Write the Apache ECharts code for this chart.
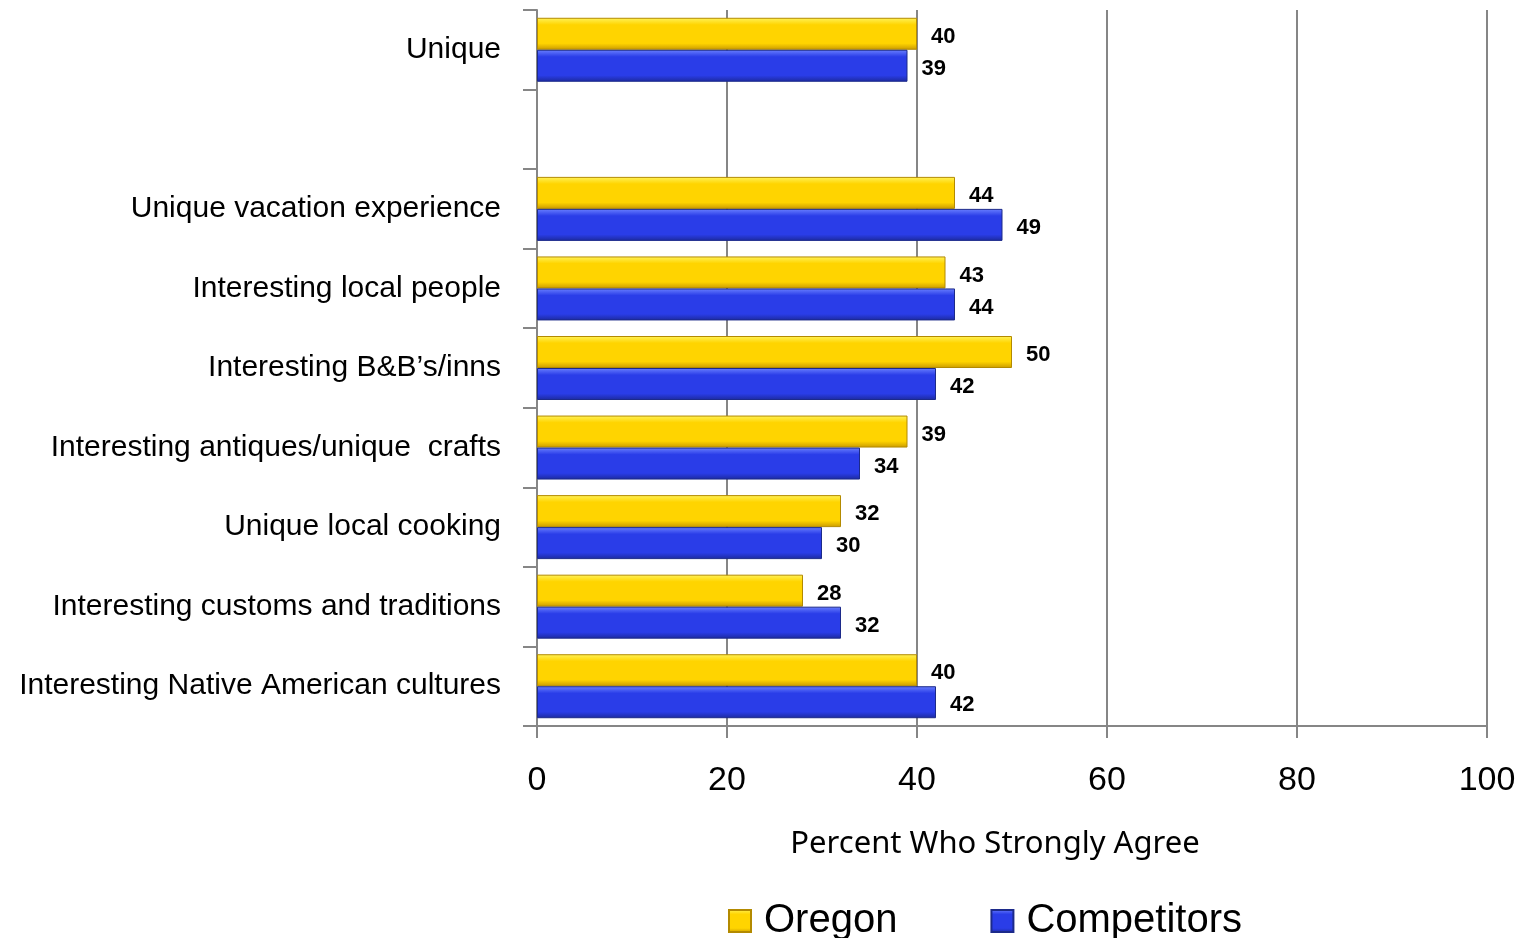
<!DOCTYPE html>
<html>
<head>
<meta charset="utf-8">
<script src="https://cdn.jsdelivr.net/npm/echarts@6/dist/echarts.min.js"></script>
<style>
  html, body { margin: 0; padding: 0; background: #ffffff; }
  #chart { width: 1523px; height: 938px; }
</style>
</head>
<body>
<div id="chart"></div>
<script>
// Attributes rated, top to bottom (an empty slot separates the overall item)
const categories = [
  'Unique',
  '',
  'Unique vacation experience',
  'Interesting local people',
  'Interesting B&B\u2019s/inns',
  'Interesting antiques/unique  crafts',
  'Unique local cooking',
  'Interesting customs and traditions',
  'Interesting Native American cultures'
];
const oregonValues      = [40, null, 44, 43, 50, 39, 32, 28, 40];
const competitorValues  = [39, null, 49, 44, 42, 34, 30, 32, 42];
const xTicks = [0, 20, 40, 60, 80, 100];

const chart = echarts.init(document.getElementById('chart'));

function bevel(light, mid, dark) {
  return new echarts.graphic.LinearGradient(0, 0, 0, 1, [
    { offset: 0, color: light },
    { offset: 0.22, color: mid },
    { offset: 0.8, color: mid },
    { offset: 1, color: dark }
  ]);
}

const valueLabel = {
  show: true,
  position: 'right',
  distance: 14,
  offset: [0, 3],
  color: '#000',
  fontFamily: 'Liberation Sans, Arial, sans-serif',
  fontWeight: 'bold',
  fontSize: 22
};

chart.setOption({
  animation: false,
  backgroundColor: '#ffffff',
  grid: { left: 537, right: 36, top: 10, bottom: 212, containLabel: false },
  legend: {
    left: 723,
    top: 896,
    itemWidth: 22,
    itemHeight: 22,
    itemGap: 93,
    icon: 'rect',
    textStyle: {
      fontFamily: 'Liberation Sans, Arial, sans-serif',
      fontSize: 40,
      color: '#000',
      padding: [0, 0, 0, 8]
    },
    data: ['Oregon', 'Competitors']
  },
  xAxis: {
    type: 'value',
    min: 0,
    max: 100,
    interval: 20,
    name: 'Percent Who Strongly Agree',
    nameLocation: 'middle',
    nameGap: 103,
    nameTextStyle: {
      fontFamily: 'Noto Sans, Open Sans, sans-serif',
      fontSize: 31,
      color: '#000',
      padding: [0, 34, 0, 0]
    },
    axisLine: { show: true, lineStyle: { color: '#868686', width: 2 } },
    axisTick: { show: true, length: 12, lineStyle: { color: '#868686', width: 2 } },
    axisLabel: {
      margin: 38,
      fontFamily: 'Liberation Sans, Arial, sans-serif',
      fontSize: 34,
      color: '#000',
      formatter: v => xTicks.includes(v) ? String(v) : ''
    },
    splitLine: { show: true, lineStyle: { color: '#868686', width: 2 } }
  },
  yAxis: {
    type: 'category',
    inverse: true,
    data: categories,
    axisLine: { show: true, lineStyle: { color: '#868686', width: 2 } },
    axisTick: { show: true, length: 14, lineStyle: { color: '#868686', width: 2 } },
    axisLabel: {
      margin: 36,
      fontFamily: 'Liberation Sans, Arial, sans-serif',
      fontSize: 30,
      color: '#000',
      padding: [4, 0, 0, 0]
    }
  },
  series: [
    {
      name: 'Oregon',
      type: 'bar',
      data: oregonValues,
      barWidth: 32,
      barGap: '0%',
      itemStyle: {
        color: bevel('#fff35a', '#ffd400', '#c99a00'),
        borderColor: '#b38a00',
        borderWidth: 1
      },
      label: valueLabel
    },
    {
      name: 'Competitors',
      type: 'bar',
      data: competitorValues,
      barWidth: 32,
      itemStyle: {
        color: bevel('#6a80ff', '#2a3de8', '#1c2a9e'),
        borderColor: '#1c2a8a',
        borderWidth: 1
      },
      label: valueLabel
    }
  ]
});
</script>
</body>
</html>
